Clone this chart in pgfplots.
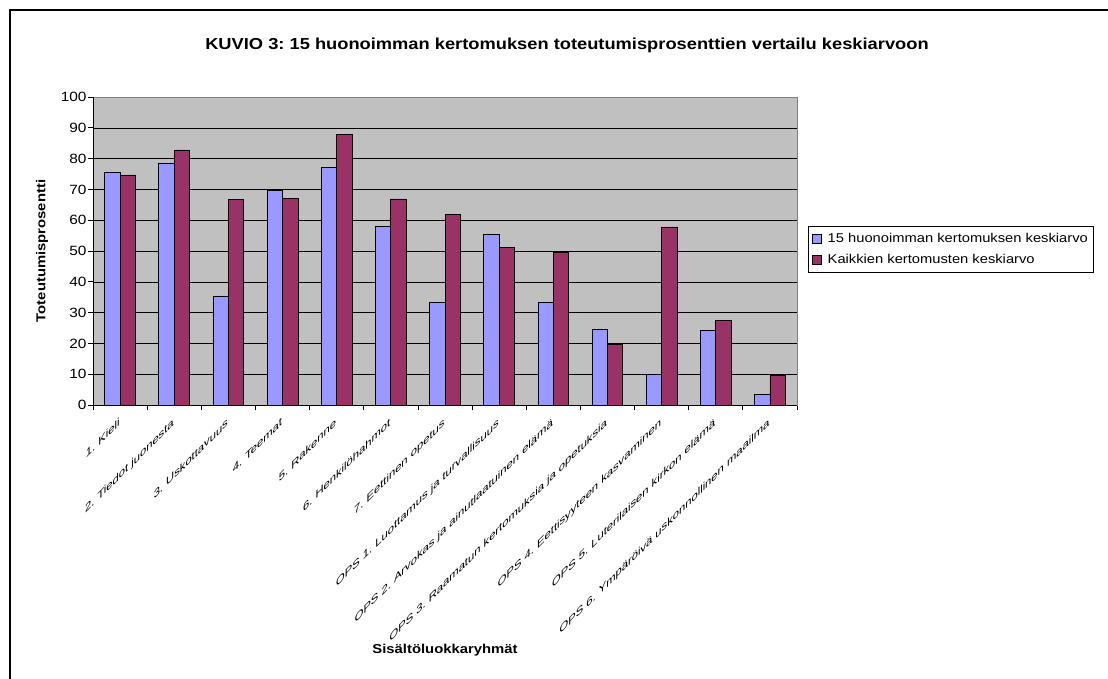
\documentclass[border=0pt]{standalone}
\usepackage{fontspec}
\setmainfont{Liberation Sans}[FakeStretch=1.15]
\newfontfamily\plainsans{Liberation Sans}
\usepackage{pgfplots}
\pgfplotsset{compat=1.18}
\definecolor{barblue}{HTML}{9999FF}
\definecolor{barred}{HTML}{993366}
\definecolor{plotgray}{HTML}{C0C0C0}
\frenchspacing
\begin{document}
\begin{tikzpicture}[x=1pt,y=1pt]
\path[use as bounding box] (0,0) rectangle (1108,-678);
\draw[line width=2pt] (10,-679) -- (10,-10) -- (1109,-10);
\node[font=\bfseries\fontsize{15.9}{18}\selectfont] at (567,-45) {KUVIO 3: 15 huonoimman kertomuksen toteutumisprosenttien vertailu keskiarvoon};
\begin{axis}[
  at={(93pt,-97pt)}, anchor=north west,
  scale only axis, width=704pt, height=308pt,
  xmin=0.5, xmax=13.5, ymin=0, ymax=100,
  ytick={0,10,...,100},
  xtick={1,...,13},
  minor xtick={0.5,1.5,...,13.5},
  xticklabels={1. Kieli, 2. Tiedot juonesta, 3. Uskottavuus, 4. Teemat, 5. Rakenne, 6. Henkilöhahmot, 7. Eettinen opetus, OPS 1. Luottamus ja turvallisuus, OPS 2. Arvokas ja ainutlaatuinen elämä, OPS 3. Raamatun kertomuksia ja opetuksia, OPS 4. Eettisyyteen kasvaminen, OPS 5. Luterilaisen kirkon elämä, OPS 6. Ympäröivä uskonnollinen maailma},
  xticklabel style={yslant=1, anchor=north east, yshift=-3pt, xshift=3pt, font=\plainsans\fontsize{11.2}{13}\selectfont},
  ybar=0pt, bar width=15.4pt,
  axis background/.style={fill=plotgray},
  axis line style={draw=gray, line width=0.8pt},
  ymajorgrids, grid style={black, line width=0.6pt},
  tick align=outside,
  xtick pos=bottom, ytick pos=left,
  major tick length=5pt, minor tick length=5pt,
  major x tick style={draw=none},
  minor x tick style={black, line width=0.8pt},
  y tick style={black, line width=0.8pt},
  yticklabel style={font=\fontsize{13.4}{15}\selectfont, xshift=2pt},
  /pgf/number format/assume math mode=true,
  ylabel={Toteutumisprosentti},
  ylabel style={at={(axis description cs:-0.0724,0.5)}, anchor=center, font=\bfseries\fontsize{12.9}{15}\selectfont},
  xlabel={Sisältöluokkaryhmät},
  xlabel style={at={(axis description cs:0.5,0)}, yshift=-245pt, anchor=center, font=\bfseries\fontsize{12.9}{15}\selectfont},
  legend style={at={(axis description cs:1.0156,0.581)}, anchor=north west, draw=black, line width=0.8pt, fill=white, font=\fontsize{12.8}{15}\selectfont, row sep=6pt, inner xsep=4pt, inner ysep=5pt},
  legend cell align=left,
]
\addplot[fill=barblue, draw=black, line width=0.8pt,
  legend image code/.code={\draw[fill=barblue, draw=black, line width=0.6pt] (0pt,-4.5pt) rectangle (9pt,4.5pt); \path[draw=none, fill=none] (0pt,0pt) -- (13pt,0pt);}]
  coordinates {(1,75.6) (2,78.6) (3,35.4) (4,69.8) (5,77.0) (6,58.1) (7,33.4) (8,55.5) (9,33.4) (10,24.4) (11,10.0) (12,24.3) (13,3.3)};
\addplot[fill=barred, draw=black, line width=0.8pt,
  legend image code/.code={\draw[fill=barred, draw=black, line width=0.6pt] (0pt,-4.5pt) rectangle (9pt,4.5pt); \path[draw=none, fill=none] (0pt,0pt) -- (13pt,0pt);}]
  coordinates {(1,74.7) (2,82.8) (3,66.6) (4,67.2) (5,87.7) (6,66.9) (7,62.0) (8,51.3) (9,49.4) (10,19.8) (11,57.8) (12,27.6) (13,9.7)};
\legend{15 huonoimman kertomuksen keskiarvo, Kaikkien kertomusten keskiarvo}
\draw[black, line width=1pt] (rel axis cs:0,1) -- (rel axis cs:0,0) -- (rel axis cs:1,0);
\end{axis}
\end{tikzpicture}
\end{document}
